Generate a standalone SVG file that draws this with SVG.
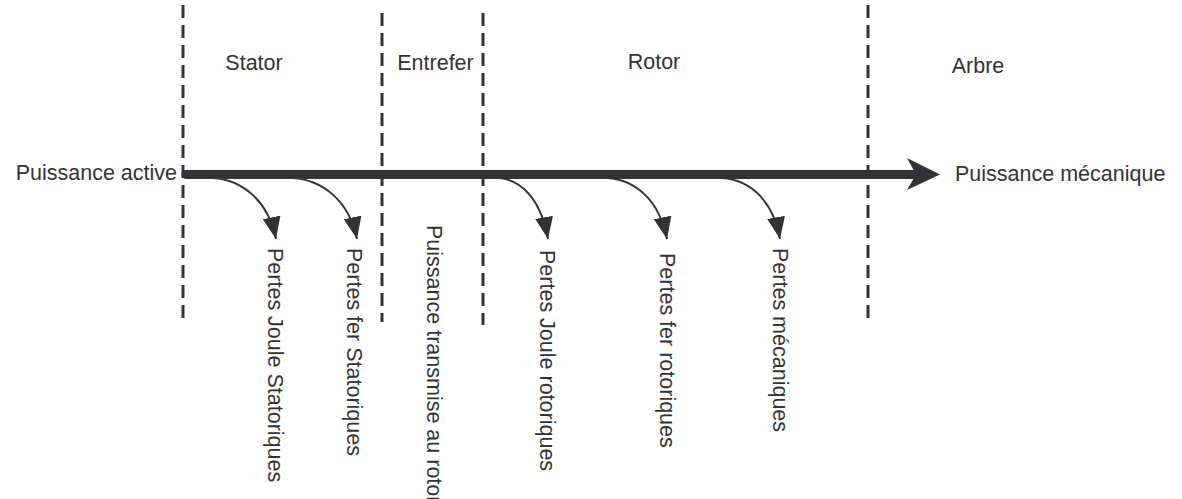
<svg xmlns="http://www.w3.org/2000/svg" width="1182" height="499" viewBox="0 0 1182 499">
<style>
text{font-family:"Liberation Sans",Arial,sans-serif;font-size:21.5px;fill:#333335}
.dash{stroke:#333335;stroke-width:3;stroke-dasharray:13 7;fill:none}
.loss{stroke:#333335;stroke-width:2;fill:none;marker-end:url(#ah)}
</style>
<defs>
<marker id="ah" markerUnits="userSpaceOnUse" markerWidth="24" markerHeight="20" viewBox="0 0 24 18" refX="22" refY="9" orient="auto">
<path d="M0,0 L22,9 L0,18 Z" fill="#333335"/>
</marker>
</defs>
<g id="boundaries">
<line class="dash" x1="183" y1="5" x2="183" y2="318"/>
<line class="dash" x1="382" y1="13" x2="382" y2="322"/>
<line class="dash" x1="483" y1="13" x2="483" y2="325"/>
<line class="dash" x1="868" y1="5" x2="868" y2="318"/>
</g>
<g id="connectors">
<path d="M186,174.5 L915,174.5" stroke="#333335" stroke-width="9" stroke-linecap="round" fill="none"/>
<path d="M940,174.5 L907,158 L916,174.5 L907,190 Z" fill="#333335"/>
<path class="loss" d="M213,178 C242,180 268,200 276,239"/>
<path class="loss" d="M293,178 C322,180 349,200 357,239"/>
<path class="loss" d="M499,178 C522,180 541,200 548,239"/>
<path class="loss" d="M607,178 C636,180 659,200 667,239"/>
<path class="loss" d="M722,178 C750,180 773,200 780,239"/>
</g>
<g id="zone-stator"><text x="254" y="70" text-anchor="middle">Stator</text></g>
<g id="zone-entrefer"><text x="435.5" y="70" text-anchor="middle">Entrefer</text></g>
<g id="zone-rotor"><text x="654" y="69" text-anchor="middle">Rotor</text></g>
<g id="zone-arbre"><text x="978" y="73" text-anchor="middle">Arbre</text></g>
<g id="input"><text x="177" y="180" text-anchor="end">Puissance active</text></g>
<g id="output"><text x="955" y="181">Puissance mécanique</text></g>
<g id="loss-joule-stator"><text transform="translate(268,248) rotate(90)">Pertes Joule Statoriques</text></g>
<g id="loss-fer-stator"><text transform="translate(347,248) rotate(90)">Pertes fer Statoriques</text></g>
<g id="transmitted"><text transform="translate(427,225) rotate(90)">Puissance transmise au rotor</text></g>
<g id="loss-joule-rotor"><text transform="translate(540,250) rotate(90)">Pertes Joule rotoriques</text></g>
<g id="loss-fer-rotor"><text transform="translate(660,253) rotate(90)">Pertes fer rotoriques</text></g>
<g id="loss-meca"><text transform="translate(773,248) rotate(90)">Pertes mécaniques</text></g>
</svg>
